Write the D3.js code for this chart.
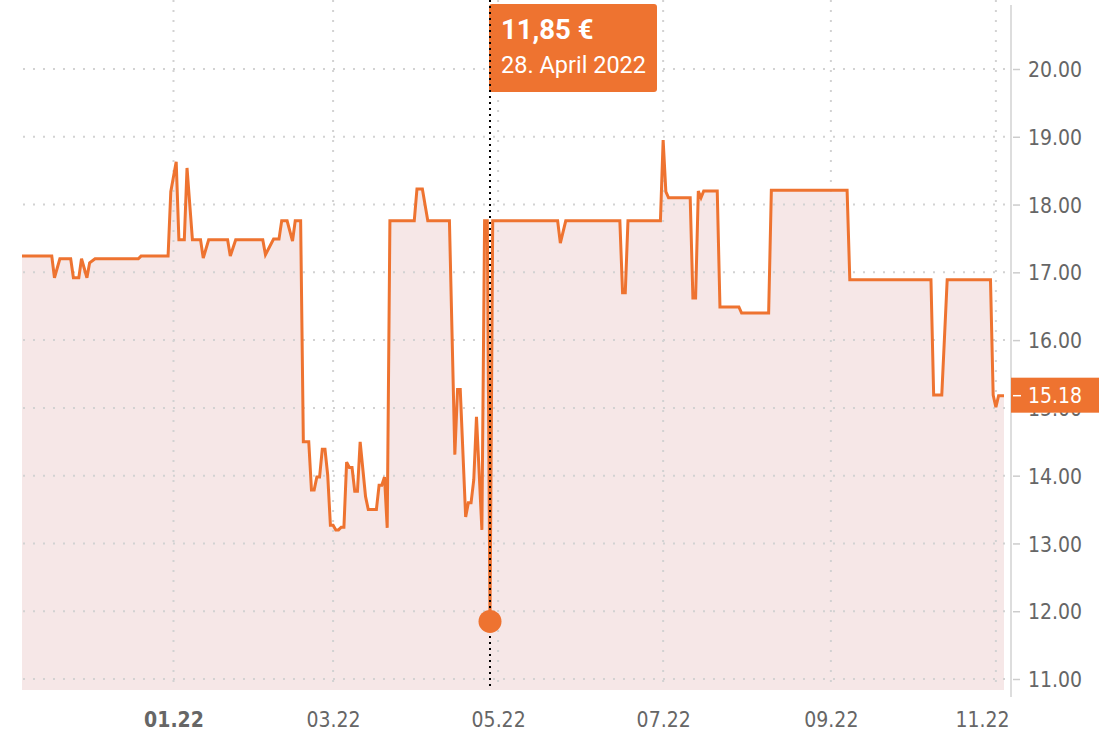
<!DOCTYPE html>
<html><head><meta charset="utf-8">
<script src="https://cdn.jsdelivr.net/npm/d3@7"></script>
<style>body{margin:0;background:#fff}svg{display:block}</style>
</head><body><svg id="c" width="1120" height="740"></svg>
<script>
// ---- data ----
const dates = [
"2021-11-06","2021-11-17","2021-11-18","2021-11-20","2021-11-24","2021-11-25","2021-11-27","2021-11-28","2021-11-30","2021-12-01",
"2021-12-03","2021-12-19","2021-12-20","2021-12-30","2021-12-31","2022-01-02","2022-01-03","2022-01-05","2022-01-06","2022-01-08",
"2022-01-11","2022-01-12","2022-01-14","2022-01-21","2022-01-22","2022-01-24","2022-02-03","2022-02-04","2022-02-07","2022-02-09",
"2022-02-10","2022-02-12","2022-02-14","2022-02-15","2022-02-17","2022-02-18","2022-02-20","2022-02-21","2022-02-22","2022-02-23",
"2022-02-24","2022-02-25","2022-02-26","2022-02-27","2022-02-28","2022-03-01","2022-03-02","2022-03-03","2022-03-04","2022-03-05",
"2022-03-06","2022-03-07","2022-03-08","2022-03-09","2022-03-10","2022-03-11","2022-03-13","2022-03-14","2022-03-17","2022-03-18",
"2022-03-19","2022-03-20","2022-03-21","2022-03-22","2022-03-31","2022-04-01","2022-04-03","2022-04-05","2022-04-13","2022-04-15",
"2022-04-16","2022-04-17","2022-04-19","2022-04-20","2022-04-21","2022-04-22","2022-04-23","2022-04-25","2022-04-26","2022-04-27",
"2022-04-28","2022-04-29","2022-05-23","2022-05-24","2022-05-26","2022-06-15","2022-06-16","2022-06-17","2022-06-18","2022-06-30",
"2022-07-01","2022-07-02","2022-07-03","2022-07-11","2022-07-12","2022-07-13","2022-07-14","2022-07-15","2022-07-16","2022-07-21",
"2022-07-22","2022-07-29","2022-07-30","2022-08-09","2022-08-10","2022-09-07","2022-09-08","2022-10-08","2022-10-09","2022-10-12",
"2022-10-14","2022-10-30","2022-10-31","2022-11-01","2022-11-02","2022-11-04"
];
const prices = [
17.24,17.24,16.92,17.20,17.20,16.92,16.92,17.20,16.92,17.14,
17.20,17.20,17.24,17.24,18.19,18.63,17.48,17.48,18.54,17.48,
17.48,17.21,17.48,17.48,17.24,17.48,17.48,17.26,17.49,17.49,
17.76,17.76,17.46,17.76,17.76,14.50,14.50,13.79,13.79,13.98,
13.98,14.39,14.39,14.01,13.27,13.27,13.20,13.20,13.24,13.24,
14.20,14.12,14.12,13.77,13.77,14.50,13.69,13.50,13.50,13.86,
13.86,13.98,13.23,17.76,17.76,18.23,18.23,17.76,17.76,14.31,
15.27,15.27,13.39,13.60,13.60,13.94,14.87,13.20,17.76,17.76,
11.85,17.76,17.76,17.43,17.76,17.76,16.70,16.70,17.76,17.76,
18.95,18.19,18.10,18.10,16.62,16.62,18.20,18.10,18.20,18.20,
16.49,16.49,16.40,16.40,18.21,18.21,16.89,16.89,15.19,15.19,
16.89,16.89,15.19,15.01,15.18,15.18
];
const yTicks = [11,12,13,14,15,16,17,18,19,20];
const xDomain = ["2021-11-06","2022-11-04"];
const tipDate = "2022-04-28";
const tipValue = 11.85;
const tipTitle = "11,85 €";
const tipSub = "28. April 2022";
const lastPrice = 15.18;

// ---- layout ----
const parse = d3.utcParse("%Y-%m-%d");
const data = dates.map((d,i)=>({d:parse(d), v:prices[i]}));
const pLeft=22, pRight=1004, pTop=0, pBottom=690, axisX=1011;
const x = d3.scaleUtc().domain(xDomain.map(parse)).range([pLeft,pRight]);
const y = d3.scaleLinear().domain([11,20]).range([679,69]);

const orange="#ee7330", fillC="#f6e7e7", gridC="#d2d2d2", labC="#666666";
const svg = d3.select("#c");
const axisFont = "'DejaVu Sans Condensed','DejaVu Sans',sans-serif";

// area
svg.append("path").datum(data)
  .attr("d", d3.area().x(d=>x(d.d)).y0(pBottom).y1(d=>y(d.v)))
  .attr("fill", fillC);

// grid
const g = svg.append("g");
g.selectAll("line.h").data(yTicks).join("line")
  .attr("x1",pLeft+1).attr("x2",pRight+1)
  .attr("y1",d=>y(d)).attr("y2",d=>y(d))
  .attr("stroke",gridC).attr("stroke-width",2).attr("stroke-dasharray","2,8");
const monthTicks = x.ticks(d3.utcMonth.every(2));
g.selectAll("line.v").data(monthTicks).join("line")
  .attr("x1",d=>x(d)).attr("x2",d=>x(d))
  .attr("y1",pTop).attr("y2",pBottom)
  .attr("stroke",gridC).attr("stroke-width",2).attr("stroke-dasharray","2,8");

// line
svg.append("path").datum(data)
  .attr("d", d3.line().x(d=>x(d.d)).y(d=>y(d.v)))
  .attr("fill","none").attr("stroke",orange).attr("stroke-width",3)
  .attr("stroke-linejoin","miter");

// tooltip
const tx = x(parse(tipDate));
svg.append("rect").attr("x",Math.round(tx)-1).attr("y",4).attr("width",168).attr("height",88)
  .attr("rx",3).attr("fill",orange);
svg.append("line").attr("x1",tx).attr("x2",tx).attr("y1",pTop).attr("y2",pBottom)
  .attr("stroke","#000").attr("stroke-width",2).attr("stroke-dasharray","2,4");
svg.append("text").attr("x",tx+11).attr("y",39).text(tipTitle)
  .attr("fill","#fff").attr("font-family","Roboto").attr("font-weight","bold").attr("font-size",27.5);
svg.append("text").attr("x",tx+11).attr("y",73).text(tipSub)
  .attr("fill","#fff").attr("font-family","Roboto").attr("font-size",23.5);
svg.append("circle").attr("cx",tx).attr("cy",y(tipValue)).attr("r",11.5).attr("fill",orange);

// y axis
svg.append("line").attr("x1",axisX).attr("x2",axisX).attr("y1",5).attr("y2",697)
  .attr("stroke","#dddddd").attr("stroke-width",2);
const ya = svg.append("g").attr("transform",`translate(${axisX},0)`)
  .call(d3.axisRight(y).tickValues(yTicks).tickFormat(d3.format(".2f")).tickSize(9).tickPadding(8));
ya.select(".domain").remove();
ya.selectAll(".tick line").attr("stroke","#cccccc").attr("stroke-width",1.5).attr("x1",2);
ya.selectAll(".tick text").attr("fill",labC).attr("font-family",axisFont).attr("font-size",21)
  .attr("dy","0.36em");

// x axis
const xa = svg.append("g").attr("transform",`translate(0,${pBottom})`)
  .call(d3.axisBottom(x).tickValues(monthTicks).tickFormat(d3.utcFormat("%m.%y")).tickSize(0).tickPadding(22));
xa.select(".domain").remove();
xa.selectAll(".tick text").attr("fill",labC).attr("font-family",axisFont).attr("font-size",21)
  .attr("font-weight",d=>d.getUTCMonth()===0?"bold":"normal")
  .each(function(d){
    const w=this.getComputedTextLength(); const cx=x(d);
    if(cx+w/2>axisX-2){ d3.select(this).attr("text-anchor","end").attr("x",axisX-2-cx); }
  });

// last price label
const ly = y(lastPrice);
svg.append("rect").attr("x",axisX).attr("y",ly-18).attr("width",88).attr("height",35).attr("fill",orange);
svg.append("line").attr("x1",axisX+2).attr("x2",axisX+10).attr("y1",ly).attr("y2",ly)
  .attr("stroke","#fff").attr("stroke-width",1.5);
svg.append("text").attr("x",1028).attr("y",ly).attr("dy","0.36em").text(d3.format(".2f")(lastPrice))
  .attr("fill","#fff").attr("font-family",axisFont).attr("font-size",21);
</script></body></html>
